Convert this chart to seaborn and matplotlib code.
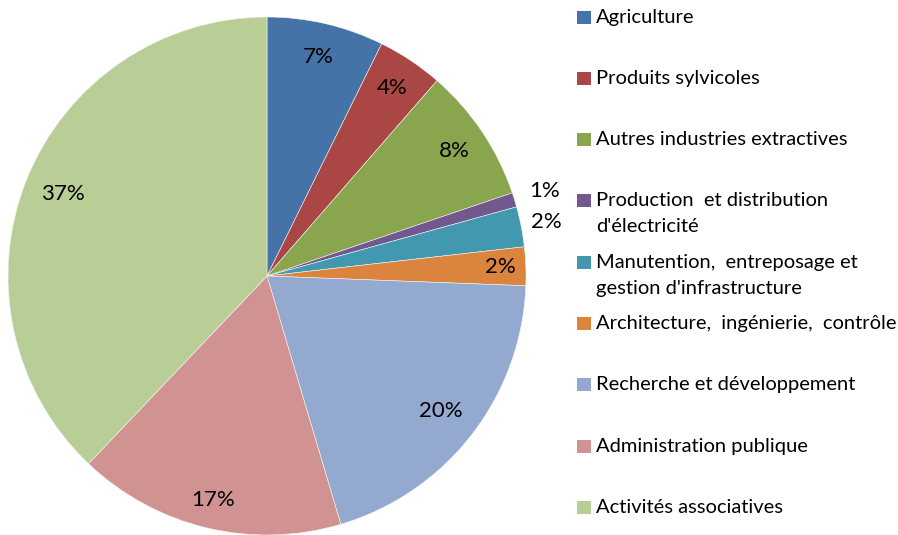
import matplotlib
matplotlib.use("Agg")
import matplotlib.pyplot as plt
import seaborn as sns
from matplotlib.patches import Rectangle
import numpy as np

# data
categories = [
    "Agriculture",
    "Produits sylvicoles",
    "Autres industries extractives",
    "Production  et distribution\nd'électricité",
    "Manutention,  entreposage et\ngestion d'infrastructure",
    "Architecture,  ingénierie,  contrôle",
    "Recherche et développement",
    "Administration publique",
    "Activités associatives",
]
shares = [7.3, 4.1, 8.4, 0.9, 2.5, 2.4, 19.8, 16.7, 37.9]
pct_labels = ["7%", "4%", "8%", "1%", "2%", "2%", "20%", "17%", "37%"]
colors = ["#4572A7", "#AA4643", "#89A54E", "#71588F", "#4198AF",
          "#DB843D", "#93A9CF", "#D19392", "#B9CD96"]

sns.set_theme(style="white")
plt.rcParams["font.family"] = ["Lato", "DejaVu Sans"]
palette = sns.color_palette(colors)

W, H = 898, 535
fig = plt.figure(figsize=(W / 100, H / 100), dpi=100)

# pie axes: centre (267, 276) px, radius 259 px
cx, cy, r = 267, 276, 259
ax = fig.add_axes([(cx - r) / W, (H - cy - r) / H, 2 * r / W, 2 * r / H])
wedges, _ = ax.pie(shares, colors=palette, startangle=90, counterclock=False,
                   radius=1, wedgeprops=dict(edgecolor="#f4f4f4", linewidth=0.4))
ax.set_xlim(-1, 1)
ax.set_ylim(-1, 1)
ax.set_aspect("equal")
ax.axis("off")

# label distances (small slices get their label outside)
dist = [0.87, 0.87, 0.87, 1.12, 1.10, 0.90, 0.85, 0.89, 0.85]
for w, lab, d in zip(wedges, pct_labels, dist):
    ang = np.deg2rad((w.theta1 + w.theta2) / 2)
    ax.text(d * np.cos(ang), d * np.sin(ang), lab, ha="center", va="center",
            fontsize=16, color="black")

# legend drawn at right side
for i, (name, col) in enumerate(zip(categories, palette)):
    y = 17 + 61.3 * i
    fig.patches.append(Rectangle((577 / W, 1 - (y + 6.5) / H), 14 / W, 13 / H,
                                 transform=fig.transFigure, facecolor=col,
                                 edgecolor="none"))
    lines = name.split("\n")
    for k, line in enumerate(lines):
        fig.text(596 / W, 1 - (y + 26 * k) / H, line, ha="left", va="center",
                 fontsize=14.5, color="black")

fig.savefig("out.png", dpi=100)
